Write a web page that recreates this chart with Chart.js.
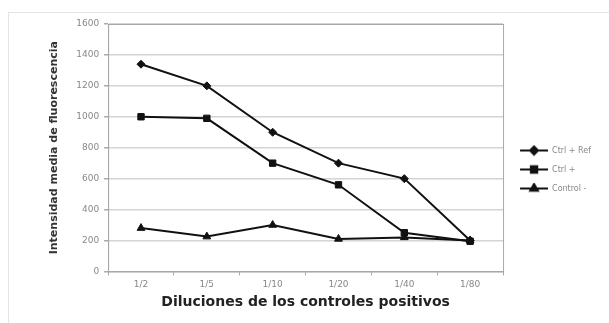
<!DOCTYPE html>
<html>
<head>
<meta charset="utf-8">
<script src="https://cdn.jsdelivr.net/npm/chart.js@4.4.0/dist/chart.umd.min.js"></script>
<style>
  body { margin: 0; background: #fff; }
  #frame { position: absolute; left: 8px; top: 12px; width: 610px; height: 320px; border: 1px solid #e4e4e4; }
  #wrap { position: absolute; left: 0; top: 0; width: 609px; height: 323px; }
</style>
</head>
<body>
<div id="frame"></div>
<div id="wrap"><canvas id="chart"></canvas></div>
<script>
// Data
const diluciones = ['1/2', '1/5', '1/10', '1/20', '1/40', '1/80'];
const ctrlRef = [1340, 1200, 900, 700, 600, 200];
const ctrlPos = [1000, 990, 700, 560, 250, 195];
const controlNeg = [280, 225, 300, 210, 220, 200];
const seriesNames = ['Ctrl + Ref', 'Ctrl +', 'Control -'];

const ink = '#111';

// small legend icon: line with marker in the middle (blank margin on the left)
function legendIcon(style, r) {
    const c = document.createElement('canvas');
    c.width = 34; c.height = 12;
    const g = c.getContext('2d');
    g.strokeStyle = ink; g.lineWidth = 2;
    g.beginPath(); g.moveTo(6, 6); g.lineTo(34, 6); g.stroke();
    g.fillStyle = ink;
    Chart.helpers.drawPoint(g, { pointStyle: style, radius: r, borderWidth: 1 }, 20, 6);
    g.fill();
    return c;
}

// frame round the plot area
const plotFrame = {
    id: 'plotFrame',
    beforeDatasetsDraw(chart) {
        const a = chart.chartArea, ctx = chart.ctx;
        ctx.save();
        ctx.strokeStyle = '#a8a8a8';
        ctx.lineWidth = 1;
        ctx.strokeRect(a.left + 0.5, a.top + 0.5, a.right - a.left, a.bottom - a.top);
        ctx.restore();
    }
};

const styles = [['rectRot', 4], ['rect', 4.5], ['triangle', 4.5]];
const icons = styles.map(s => legendIcon(s[0], s[1]));
const tickFont = { family: 'DejaVu Sans', size: 9 };

new Chart(document.getElementById('chart'), {
    type: 'line',
    data: {
        labels: diluciones,
        datasets: [ctrlRef, ctrlPos, controlNeg].map((d, i) => ({
            label: seriesNames[i],
            data: d,
            borderColor: ink,
            backgroundColor: ink,
            borderWidth: 2,
            pointStyle: styles[i][0],
            pointRadius: styles[i][1],
            pointBorderWidth: 1,
            tension: 0
        }))
    },
    options: {
        responsive: true,
        maintainAspectRatio: false,
        animation: false,
        layout: { padding: { left: 44, top: 24, right: 8, bottom: 8 } },
        plugins: {
            legend: {
                position: 'right',
                labels: {
                    usePointStyle: true,
                    pointStyleWidth: 34,
                    color: '#888',
                    font: { family: 'DejaVu Sans', size: 8 },
                    boxHeight: 12,
                    padding: 11,
                    generateLabels: chart => chart.data.datasets.map((ds, i) => ({
                        text: ds.label,
                        pointStyle: icons[i],
                        fontColor: '#888',
                        datasetIndex: i,
                        lineWidth: 0
                    }))
                }
            },
            tooltip: { enabled: false }
        },
        scales: {
            x: {
                offset: true,
                grid: { offset: true, drawOnChartArea: false, tickLength: 4, color: '#a8a8a8' },
                border: { color: '#a8a8a8' },
                ticks: { color: '#888', font: tickFont, padding: 4 },
                title: {
                    display: true,
                    text: 'Diluciones de los controles positivos',
                    color: '#222',
                    font: { family: 'DejaVu Sans', size: 14, weight: 'bold' },
                    padding: { top: 0 }
                }
            },
            y: {
                min: 0,
                max: 1600,
                ticks: {
                    stepSize: 200, color: '#888', font: tickFont, padding: 5,
                    callback: v => String(v)
                },
                grid: { color: '#d4d4d4', lineWidth: 1.5, tickLength: 4, tickColor: '#a8a8a8' },
                border: { color: '#a8a8a8' },
                title: {
                    display: true,
                    text: 'Intensidad media de fluorescencia',
                    color: '#333',
                    font: { family: 'DejaVu Sans', size: 11, weight: 'bold' },
                    padding: { bottom: 10 }
                }
            }
        }
    },
    plugins: [plotFrame]
});
</script>
</body>
</html>
